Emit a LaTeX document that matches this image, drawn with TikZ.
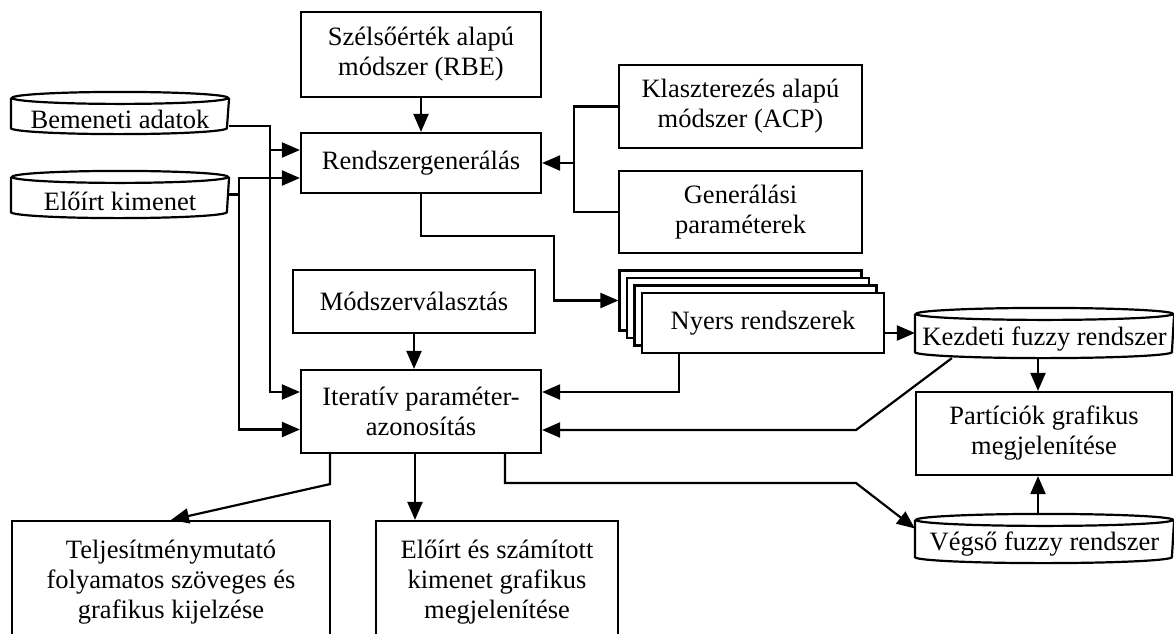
\documentclass[tikz,border=0pt]{standalone}
\usepackage{fontspec}
\setmainfont{Liberation Serif}
\usetikzlibrary{arrows.meta,shadows}

\begin{document}
\begin{tikzpicture}[
    x = 1pt, y = -1pt,
    line width = 2.2pt,
    font = \fontsize{26.5}{30}\selectfont,
    >={Triangle[length=18pt, width=15pt]},
    block/.style = {rectangle,
      draw,
      align = center,
      inner sep = 0pt},
    store/.style = {rectangle,
      inner sep = 0pt},
    stack/.style = {general shadow = {shadow xshift = -#1, shadow yshift = #1,
      fill = white, draw, line width = 2.2pt}}
    ]

    \clip (0, 0) rectangle (1174, 633);

    \node at (421, 54.5) [block, minimum width = 240pt, minimum height = 85pt, name = rbe] {Szélsőérték alapú\\módszer (RBE)};
    \node at (421, 163) [block, minimum width = 240pt, minimum height = 60pt, name = gen] {Rendszergenerálás};
    \node at (740.5, 106.5) [block, minimum width = 243pt, minimum height = 83pt, name = acp] {Klaszterezés alapú\\módszer (ACP)};
    \node at (740.5, 212) [block, minimum width = 243pt, minimum height = 82pt, name = par] {Generálási\\paraméterek};
    \node at (414, 301.5) [block, minimum width = 242pt, minimum height = 63pt, name = mod] {Módszerválasztás};
    \node at (421, 411.5) [block, minimum width = 240pt, minimum height = 83pt, name = ite] {Iteratív paraméter-\\azonosítás};
    \node at (171, 582) [block, minimum width = 318pt, minimum height = 122pt, name = tel] {Teljesítménymutató\\folyamatos szöveges és\\grafikus kijelzése};
    \node at (497, 582) [block, minimum width = 242pt, minimum height = 122pt, name = szam] {Előírt és számított\\kimenet grafikus\\megjelenítése};
    \node at (1044, 433.5) [block, minimum width = 256pt, minimum height = 83pt, name = part] {Partíciók grafikus\\megjelenítése};
    \node at (763, 323) [block, minimum width = 242pt, minimum height = 60pt, fill = white,
      stack = 22.5pt, stack = 15pt, stack = 7.5pt, name = nye] {Nyers rendszerek};

    \node at (120, 113) [store, minimum width = 216pt, text height = 35pt, text depth = 5pt, name = bem] {Bemeneti adatok};
    \node at (120, 194.5) [store, minimum width = 216pt, text height = 38pt, text depth = 7pt, name = elk] {Előírt kimenet};
    \node at (1044.5, 333) [store, minimum width = 257pt, text height = 36pt, text depth = 12pt, name = kez] {Kezdeti fuzzy rendszer};
    \node at (1044.5, 538.5) [store, minimum width = 257pt, text height = 35pt, text depth = 12pt, name = veg] {Végső fuzzy rendszer};

    % cylinders
    \foreach \n/\r in {bem/108pt, elk/108pt, kez/128.5pt, veg/128.5pt}
      \draw ([yshift = -6pt]\n.north) ellipse [x radius = \r, y radius = 6pt]
        ([yshift = -6pt]\n.north west) -- ([yshift = 6pt]\n.south west)
        arc [start angle = 180, end angle = 360, x radius = \r, y radius = 6pt]
        -- ([yshift = -6pt]\n.north east);

    \coordinate (j1) at (574, 163);
    \coordinate (j2) at (554, 236);
    \coordinate (g1) at (270, 150);
    \coordinate (g2) at (239, 178);
    \coordinate (i1) at (270, 392);
    \coordinate (i2) at (239, 429.5);
    \coordinate (k1) at (856, 430);
    \coordinate (k2) at (856, 483);

    \draw [->] (rbe) -- (gen);
    \draw [->] (acp.west) -| (j1) -- (gen.east);
    \draw (j1) |- (par.west);
    \draw [->] (gen.south) |- (j2) |- ([xshift = -22.5pt, yshift = 22.5pt]nye.west);

    \draw [->] (bem.mid east) -| (g1) -- (g1 -| gen.west);
    \draw [->] (g1) |- (i1 -| ite.west);
    \draw [->] (elk.east) -| (g2) -- (g2 -| gen.west);
    \draw [->] (elk.east) -| (i2) -- (i2 -| ite.west);

    \draw [->] (mod.south) -- (mod.south |- ite.north);
    \draw [->] ([xshift = 38pt]nye.south west) |- ([yshift = 19.5pt]ite.east);
    \draw [->] (nye.east |- kez.west) -- (kez.west);
    \draw [->] ([xshift = -6.5pt]kez.south) -- ([xshift = -6.5pt]kez.south |- part.north);
    \draw [->] ([xshift = 37pt]kez.south west) -- (k1) -- (k1 -| ite.east);

    \draw [->] ([xshift = 30pt]ite.south west) -- ++(0, 30) -- (tel.north);
    \draw [->] ([xshift = -6pt]ite.south) -- ([xshift = -6pt]ite.south |- szam.north);
    \draw [->] ([xshift = 205pt]ite.south west) |- (k2) -- ([yshift = 10pt]veg.west);
    \draw [->] ([xshift = -6.5pt]veg.north) -- ([xshift = -6.5pt]veg.north |- part.south);
  \end{tikzpicture}
\end{document}
